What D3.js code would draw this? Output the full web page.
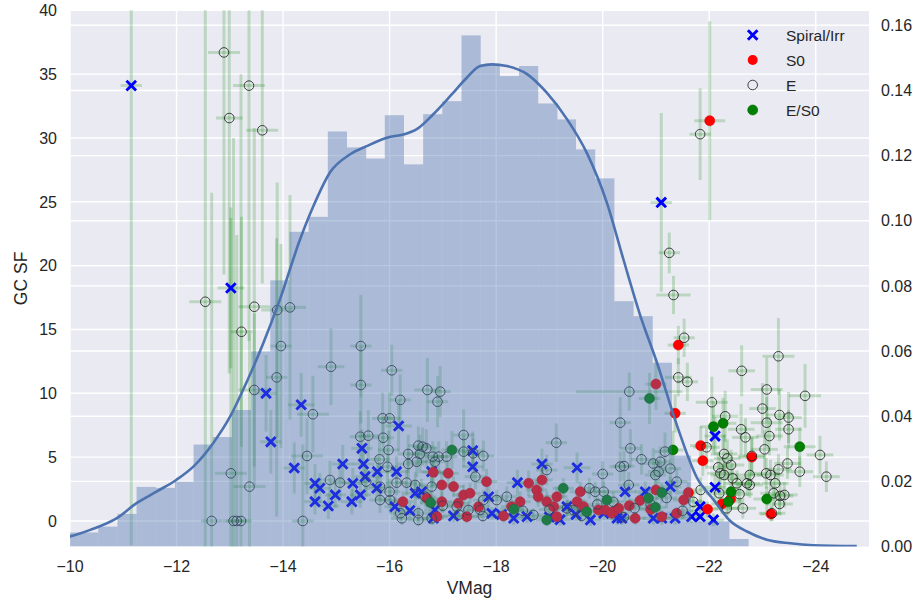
<!DOCTYPE html>
<html>
<head>
<meta charset="utf-8">
<script src="https://cdn.jsdelivr.net/npm/d3@7"></script>
<style>
  html, body { margin: 0; padding: 0; background: #ffffff; }
  svg { display: block; font-family: "Liberation Sans", Arial, sans-serif; }
</style>
</head>
<body>
<svg id="chart" width="919" height="603"></svg>
<script>
// ---- data -------------------------------------------------------------
// rows: [VMag, GC SF, VMag error, GC SF error]
const spiralIrr = [
  [-11.15, 34.1, 0.2, 36], [-13.02, 18.25, 0.25, 6.3], [-21.10, 24.95, 0.2, 7.0],
  [-13.68, 10.0, 0.2, 3], [-13.77, 6.2, 0.2, 2.5], [-14.34, 9.1, 0.25, 2.5],
  [-14.21, 4.15, 0.2, 2], [-14.60, 2.95, 0.2, 1.5], [-14.69, 2.56, 0.2, 1.2],
  [-14.60, 1.51, 0.2, 1], [-14.85, 1.17, 0.2, 1], [-14.98, 2.04, 0.2, 1],
  [-15.12, 4.46, 0.2, 1.5], [-15.31, 2.95, 0.2, 1.2], [-15.29, 1.51, 0.2, 1],
  [-15.45, 2.04, 0.2, 1], [-15.48, 5.69, 0.2, 1.5], [-15.51, 4.46, 0.2, 1.5],
  [-15.54, 3.47, 0.2, 1.2], [-15.77, 3.86, 0.2, 1.2], [-15.76, 2.56, 0.2, 1],
  [-16.13, 3.86, 0.2, 1.2], [-16.17, 7.44, 0.25, 2], [-16.10, 1.12, 0.2, 0.8],
  [-16.38, 0.81, 0.2, 0.6], [-16.48, 2.17, 0.2, 1], [-16.60, 2.29, 0.2, 1],
  [-16.79, 3.86, 0.2, 1.2], [-16.85, 0.86, 0.2, 0.6], [-16.82, 0.21, 0.2, 0.5],
  [-17.56, 5.51, 0.2, 1.5], [-17.56, 4.25, 0.2, 1.2], [-17.86, 1.90, 0.2, 0.8],
  [-17.92, 0.60, 0.2, 0.5], [-18.40, 3.0, 0.2, 1], [-18.33, 0.21, 0.2, 0.5],
  [-18.58, 0.34, 0.2, 0.5], [-18.86, 4.46, 0.2, 1.2], [-19.52, 4.17, 0.25, 1.2],
  [-19.33, 1.12, 0.2, 0.6], [-19.77, 0.08, 0.2, 0.5], [-20.27, 0.21, 0.2, 0.5],
  [-20.02, 0.60, 0.2, 0.5], [-20.36, 0.21, 0.2, 0.5], [-20.42, 2.29, 0.2, 0.8],
  [-20.80, 2.29, 0.2, 0.8], [-20.95, 0.21, 0.2, 0.5], [-21.11, 0.21, 0.2, 0.5],
  [-21.27, 2.69, 0.2, 0.8], [-21.36, 0.21, 0.2, 0.5], [-21.67, 0.34, 0.2, 0.5],
  [-21.83, 1.12, 0.2, 0.6], [-21.83, 0.34, 0.2, 0.5], [-22.08, 0.08, 0.2, 0.5],
  [-22.11, 6.65, 0.2, 1.5], [-22.11, 2.64, 0.2, 1], [-19.00, 0.30, 0.2, 0.5],
  [-19.20, 0.10, 0.2, 0.5], [-19.50, 0.50, 0.2, 0.5], [-18.10, 0.50, 0.2, 0.5],
  [-17.20, 0.40, 0.2, 0.5]
];
const s0 = [
  [-22.01, 31.35, 0.29, 7.8], [-21.42, 13.78, 0.2, 1.5], [-21.00, 10.72, 0.2, 2.0],
  [-21.36, 8.43, 0.2, 1.5], [-21.84, 5.90, 0.2, 1.5], [-21.88, 4.72, 0.2, 1.2],
  [-22.80, 5.00, 0.25, 1.5], [-23.16, 0.55, 0.2, 0.6], [-22.40, 1.70, 0.2, 0.8],
  [-22.24, 1.33, 0.2, 0.8], [-21.97, 0.92, 0.2, 0.6], [-21.61, 2.22, 0.2, 0.8],
  [-21.00, 2.43, 0.2, 0.8], [-20.61, 0.21, 0.2, 0.5], [-21.11, 0.34, 0.2, 0.5],
  [-21.39, 0.60, 0.2, 0.5], [-21.52, 1.64, 0.2, 0.6], [-20.20, 0.73, 0.2, 0.5],
  [-20.05, 0.86, 0.2, 0.5], [-16.82, 3.81, 0.2, 1], [-17.10, 3.73, 0.2, 1],
  [-16.98, 2.82, 0.2, 1], [-16.70, 1.78, 0.2, 0.8], [-16.98, 1.51, 0.2, 0.8],
  [-16.25, 1.51, 0.2, 0.8], [-16.89, 0.34, 0.2, 0.5], [-17.20, 2.69, 0.2, 0.8],
  [-17.29, 1.39, 0.2, 0.8], [-17.39, 2.04, 0.2, 0.8], [-17.51, 2.17, 0.2, 0.8],
  [-17.45, 0.34, 0.2, 0.5], [-17.67, 1.12, 0.2, 0.6], [-17.82, 3.08, 0.2, 1],
  [-18.14, 0.39, 0.2, 0.5], [-18.29, 1.12, 0.2, 0.6], [-18.45, 1.51, 0.2, 0.8],
  [-18.61, 2.95, 0.2, 1], [-18.76, 2.43, 0.2, 0.8], [-18.86, 3.21, 0.2, 1],
  [-18.79, 1.90, 0.2, 0.8], [-18.95, 1.51, 0.2, 0.8], [-19.14, 1.90, 0.2, 0.8],
  [-19.08, 1.12, 0.2, 0.6], [-19.14, 0.34, 0.2, 0.5], [-19.58, 2.29, 0.2, 0.8],
  [-19.64, 1.12, 0.2, 0.6], [-19.52, 1.51, 0.2, 0.8], [-19.92, 0.86, 0.2, 0.5],
  [-20.17, 0.60, 0.2, 0.5], [-20.30, 0.99, 0.2, 0.6], [-20.50, 1.20, 0.2, 0.6],
  [-20.70, 1.60, 0.2, 0.6], [-20.90, 0.90, 0.2, 0.6]
];
const ellipticals = [
  [-12.89, 36.7, 0.3, 17.4], [-13.36, 34.1, 0.3, 20], [-12.99, 31.56, 0.25, 20],
  [-13.61, 30.6, 0.3, 12], [-12.54, 17.17, 0.3, 25], [-13.46, 16.78, 0.3, 14],
  [-13.89, 16.52, 0.3, 10], [-14.13, 16.73, 0.3, 8.8], [-13.22, 14.82, 0.2, 9],
  [-13.96, 13.70, 0.2, 8], [-13.88, 11.25, 0.2, 10.9], [-13.46, 10.26, 0.3, 6],
  [-14.56, 8.36, 0.3, 3], [-14.45, 5.09, 0.3, 3], [-13.02, 3.73, 0.3, 20],
  [-13.37, 2.69, 0.3, 12], [-12.66, 0.0, 0.2, 25.7], [-13.07, 0.0, 0.2, 30],
  [-13.13, 0.0, 0.2, 22.4], [-13.21, 0.0, 0.2, 35], [-14.37, 0.0, 0.2, 6],
  [-15.46, 13.7, 0.2, 4], [-15.46, 10.65, 0.2, 3], [-14.90, 12.08, 0.25, 3],
  [-16.04, 11.8, 0.2, 2], [-16.20, 9.48, 0.2, 2], [-16.71, 10.26, 0.25, 2.5],
  [-16.95, 10.13, 0.2, 2], [-16.90, 9.34, 0.2, 2], [-17.39, 6.73, 0.2, 2],
  [-15.45, 6.60, 0.2, 2], [-15.60, 6.68, 0.2, 2], [-15.87, 8.04, 0.2, 2],
  [-16.00, 8.04, 0.2, 2], [-15.88, 6.52, 0.2, 1.5], [-15.98, 5.56, 0.2, 1.5],
  [-15.81, 4.83, 0.2, 1.5], [-15.96, 4.25, 0.2, 1.5], [-16.35, 5.25, 0.2, 1.5],
  [-16.54, 5.90, 0.2, 1.5], [-16.62, 5.82, 0.2, 1.5], [-16.57, 5.25, 0.2, 1.5],
  [-16.69, 5.69, 0.2, 1.5], [-16.51, 4.64, 0.2, 1.2], [-16.35, 4.46, 0.2, 1.2],
  [-16.81, 5.04, 0.2, 1.2], [-16.92, 5.04, 0.2, 1.2], [-16.85, 4.64, 0.2, 1.2],
  [-17.07, 5.04, 0.2, 1.2], [-17.39, 5.43, 0.2, 1.2], [-17.57, 5.30, 0.2, 1.2],
  [-17.76, 5.09, 0.2, 1.2], [-17.61, 3.47, 0.2, 1], [-14.88, 3.21, 0.2, 1.5],
  [-15.07, 3.00, 0.2, 1.5], [-15.56, 3.08, 0.2, 1.2], [-15.82, 2.69, 0.2, 1],
  [-16.00, 2.29, 0.2, 1], [-16.13, 3.00, 0.2, 1], [-16.32, 3.00, 0.2, 1],
  [-15.82, 1.64, 0.2, 1], [-16.01, 1.64, 0.2, 1], [-16.20, 0.60, 0.2, 0.6],
  [-16.23, 0.21, 0.2, 0.5], [-16.54, 0.08, 0.2, 0.5], [-16.54, 0.60, 0.2, 0.6],
  [-16.67, 1.90, 0.2, 0.8], [-16.48, 2.82, 0.2, 1], [-16.79, 0.21, 0.2, 0.5],
  [-16.79, 2.69, 0.2, 1], [-17.26, 1.12, 0.2, 0.6], [-17.48, 0.86, 0.2, 0.6],
  [-17.70, 0.86, 0.2, 0.6], [-17.75, 0.39, 0.2, 0.5], [-17.76, 1.64, 0.2, 0.8],
  [-18.01, 1.64, 0.2, 0.8], [-18.70, 0.47, 0.2, 0.5], [-18.95, 3.99, 0.2, 1.2],
  [-19.13, 6.13, 0.2, 1.5], [-19.33, 0.99, 0.2, 0.6], [-19.45, 0.86, 0.2, 0.6],
  [-19.75, 2.56, 0.2, 0.8], [-19.86, 2.29, 0.2, 0.8], [-20.00, 3.68, 0.2, 1],
  [-20.02, 2.29, 0.2, 0.8], [-20.33, 7.70, 0.2, 2], [-20.33, 4.25, 0.2, 1.2],
  [-21.25, 21.0, 0.2, 1.6], [-21.33, 17.7, 0.32, 1.5], [-21.83, 30.3, 0.2, 3.6],
  [-21.53, 14.35, 0.2, 1.5], [-21.42, 11.25, 0.25, 1.5], [-21.59, 10.9, 0.2, 1.5],
  [-20.50, 10.13, 1.0, 1.5], [-20.40, 4.30, 0.2, 1.2], [-20.52, 5.69, 0.2, 1.5],
  [-21.17, 5.43, 0.2, 1.5], [-20.73, 4.83, 0.2, 1.2], [-20.95, 4.50, 0.2, 1.2],
  [-21.08, 4.64, 0.2, 1.2], [-21.27, 4.10, 0.2, 1.2], [-21.05, 3.86, 0.2, 1],
  [-20.99, 3.60, 0.2, 1], [-21.39, 3.08, 0.2, 1], [-20.49, 2.82, 0.2, 1],
  [-22.05, 9.30, 0.3, 2], [-22.61, 11.76, 0.25, 2], [-23.30, 12.9, 0.3, 3],
  [-23.08, 10.3, 0.3, 2.5], [-23.00, 8.80, 0.25, 2], [-23.80, 9.80, 0.3, 2.5],
  [-23.32, 8.30, 0.25, 2], [-23.49, 8.10, 0.25, 2], [-23.08, 7.70, 0.3, 2],
  [-22.30, 8.20, 0.25, 2], [-21.95, 5.77, 0.25, 1.5], [-22.60, 7.18, 0.25, 2],
  [-22.68, 6.55, 0.25, 1.5], [-23.13, 6.65, 0.25, 1.5], [-23.49, 7.18, 0.25, 1.5],
  [-23.04, 5.61, 0.25, 1.5], [-22.80, 5.10, 0.25, 1.5], [-22.28, 5.25, 0.25, 1.5],
  [-22.34, 4.90, 0.25, 1.5], [-22.41, 4.38, 0.25, 1.2], [-22.17, 4.20, 0.25, 1.2],
  [-22.21, 3.73, 0.25, 1.2], [-22.28, 3.60, 0.25, 1.2], [-22.44, 3.34, 0.25, 1.2],
  [-22.52, 2.95, 0.25, 1], [-22.71, 2.95, 0.25, 1], [-22.76, 3.60, 0.25, 1.2],
  [-23.07, 3.73, 0.25, 1.2], [-23.15, 3.60, 0.25, 1.2], [-23.30, 4.04, 0.25, 1.2],
  [-23.47, 4.50, 0.25, 1.2], [-23.70, 3.86, 0.25, 1.2], [-24.08, 5.17, 0.25, 1.5],
  [-24.20, 3.47, 0.25, 1.2], [-23.21, 2.17, 0.25, 1], [-23.33, 1.96, 0.25, 1],
  [-23.24, 2.95, 0.25, 1], [-23.41, 2.04, 0.25, 1], [-23.32, 1.33, 0.25, 0.8],
  [-23.18, 0.60, 0.25, 0.6], [-22.63, 0.99, 0.25, 0.8], [-22.33, 0.99, 0.25, 0.8],
  [-22.19, 2.17, 0.25, 1], [-22.57, 2.10, 0.25, 1], [-22.76, 2.82, 0.25, 1],
  [-21.84, 2.43, 0.25, 1], [-20.20, 1.50, 0.2, 0.8], [-20.60, 1.00, 0.2, 0.6],
  [-20.90, 1.30, 0.2, 0.8], [-21.20, 1.80, 0.2, 0.8], [-21.50, 0.80, 0.2, 0.6],
  [-21.70, 1.50, 0.2, 0.8], [-20.40, 0.30, 0.2, 0.5], [-17.00, 1.20, 0.2, 0.6],
  [-17.30, 0.50, 0.2, 0.5], [-18.20, 1.90, 0.2, 0.8], [-18.50, 0.80, 0.2, 0.6],
  [-19.00, 0.90, 0.2, 0.6], [-19.60, 0.40, 0.2, 0.5], [-19.90, 1.30, 0.2, 0.6]
];
const ellipticalS0 = [
  [-17.17, 5.56, 0.2, 1.5], [-16.77, 1.43, 0.2, 0.8], [-18.33, 0.92, 0.2, 0.6],
  [-18.95, 0.08, 0.2, 0.5], [-19.26, 2.56, 0.2, 0.8], [-19.70, 0.73, 0.2, 0.5],
  [-20.08, 1.64, 0.2, 0.8], [-20.88, 9.60, 0.2, 2], [-21.32, 5.56, 0.2, 1.5],
  [-22.08, 7.38, 0.25, 2], [-22.26, 7.65, 0.25, 2], [-23.70, 5.82, 0.3, 1.5],
  [-23.08, 1.72, 0.25, 1], [-22.41, 2.29, 0.25, 1], [-22.36, 1.51, 0.25, 1],
  [-21.11, 2.22, 0.2, 0.8], [-20.86, 1.78, 0.2, 0.8], [-20.99, 1.07, 0.2, 0.6]
];

// magnitude histogram (density per bin) and its bin edges
const histEdges = [-9.81, -10.17, -10.53, -10.89, -11.25, -11.61, -11.97, -12.32, -12.68,
  -13.04, -13.40, -13.76, -14.12, -14.48, -14.84, -15.20, -15.56, -15.91, -16.27, -16.63,
  -16.99, -17.35, -17.71, -18.07, -18.43, -18.79, -19.15, -19.50, -19.86, -20.22, -20.58,
  -20.94, -21.30, -21.66, -22.02, -22.38, -22.74];
const histDensity = [0.0043, 0.0043, 0.0061, 0.0100, 0.0183, 0.0180, 0.0199, 0.0313, 0.0336,
  0.0419, 0.0599, 0.0817, 0.0966, 0.1012, 0.1274, 0.1225, 0.1191, 0.1324, 0.1173, 0.1327,
  0.1367, 0.1569, 0.1480, 0.1444, 0.1475, 0.1360, 0.1311, 0.1219, 0.1130, 0.0753, 0.0707,
  0.0564, 0.0279, 0.0077, 0.0077, 0.0023];

// kernel density estimate of the magnitudes: [VMag, density]
const kdeCurve = [
  [-9.70, 0.0022], [-10.00, 0.0031], [-10.38, 0.0051], [-10.88, 0.0087], [-11.25, 0.0133],
  [-11.63, 0.0169], [-12.00, 0.0205], [-12.32, 0.0246], [-12.69, 0.0318], [-13.01, 0.0400],
  [-13.32, 0.0506], [-13.63, 0.0625], [-13.94, 0.0758], [-14.32, 0.0943], [-14.57, 0.1045],
  [-14.88, 0.1148], [-15.26, 0.1204], [-15.57, 0.1229], [-15.95, 0.1255], [-16.26, 0.1265],
  [-16.51, 0.1281], [-16.82, 0.1327], [-17.14, 0.1383], [-17.45, 0.1439], [-17.70, 0.1475],
  [-17.92, 0.1480], [-18.20, 0.1475], [-18.58, 0.1450], [-18.95, 0.1393], [-19.33, 0.1312],
  [-19.70, 0.1209], [-20.08, 0.1055], [-20.39, 0.0881], [-20.70, 0.0712], [-21.02, 0.0564],
  [-21.39, 0.0374], [-21.77, 0.0211], [-22.08, 0.0144], [-22.39, 0.0079], [-22.71, 0.0046],
  [-23.08, 0.0021], [-23.52, 0.0010], [-23.95, 0.0004], [-24.77, 0.0001]
];

const xTicks = [-10, -12, -14, -16, -18, -20, -22, -24];
const sfTicks = [0, 5, 10, 15, 20, 25, 30, 35, 40];
const densityTicks = [0.00, 0.02, 0.04, 0.06, 0.08, 0.10, 0.12, 0.14, 0.16];
const legendLabels = ["Spiral/Irr", "S0", "E", "E/S0"];

// ---- layout -----------------------------------------------------------
const svg = d3.select("#chart");
const L = 70, R = 869, T = 10.3, B = 546.5;

const x = d3.scaleLinear().domain([-10, -25]).range([L, R]);
const ySF = d3.scaleLinear().domain([-2, 40]).range([B, T]);
const yD = d3.scaleLinear().domain([0, 0.1646]).range([B, T]);

const textColor = "#262626";
const fmtMinus = v => (v < 0 ? "\u2212" + Math.abs(v) : String(v));

svg.append("defs").append("clipPath").attr("id", "plotClip")
  .append("rect").attr("x", L).attr("y", T).attr("width", R - L).attr("height", B - T);

svg.append("rect").attr("x", L).attr("y", T).attr("width", R - L).attr("height", B - T)
  .attr("fill", "#EAEAF2");

// grid
const grid = svg.append("g").attr("stroke", "#ffffff").attr("stroke-width", 1.4);
grid.selectAll(".gx").data(xTicks).join("line")
  .attr("x1", d => x(d)).attr("x2", d => x(d)).attr("y1", T).attr("y2", B);
grid.selectAll(".gy").data(sfTicks).join("line")
  .attr("x1", L).attr("x2", R).attr("y1", d => ySF(d)).attr("y2", d => ySF(d));
grid.selectAll(".gd").data(densityTicks.slice(1)).join("line")
  .attr("x1", L).attr("x2", R).attr("y1", d => yD(d)).attr("y2", d => yD(d));

const plot = svg.append("g").attr("clip-path", "url(#plotClip)");

// error bars for all galaxies
const allRows = [].concat(spiralIrr, s0, ellipticals, ellipticalS0);
const errs = plot.append("g").attr("stroke", "rgba(0,128,0,0.2)").attr("stroke-width", 3);
errs.selectAll(".ey").data(allRows).join("line")
  .attr("x1", d => x(d[0])).attr("x2", d => x(d[0]))
  .attr("y1", d => ySF(d[1] - d[3])).attr("y2", d => ySF(d[1] + d[3]));
errs.selectAll(".ex").data(allRows).join("line")
  .attr("x1", d => x(d[0] - d[2])).attr("x2", d => x(d[0] + d[2]))
  .attr("y1", d => ySF(d[1])).attr("y2", d => ySF(d[1]));

// markers
const xMark = (g, cx, cy, s) => g.append("path")
  .attr("d", `M${cx - s},${cy - s}L${cx + s},${cy + s}M${cx - s},${cy + s}L${cx + s},${cy - s}`)
  .attr("stroke", "#0000ff").attr("stroke-width", 2.9).attr("fill", "none");

const gSp = plot.append("g");
spiralIrr.forEach(d => xMark(gSp, x(d[0]), ySF(d[1]), 4.8));

plot.append("g").selectAll("circle").data(s0).join("circle")
  .attr("cx", d => x(d[0])).attr("cy", d => ySF(d[1])).attr("r", 5)
  .attr("fill", "#ff0000").attr("stroke", "#e00000").attr("stroke-width", 0.6);

plot.append("g").selectAll("circle").data(ellipticals).join("circle")
  .attr("cx", d => x(d[0])).attr("cy", d => ySF(d[1])).attr("r", 4.8)
  .attr("fill", "none").attr("stroke", "#222222").attr("stroke-width", 0.85);

plot.append("g").selectAll("circle").data(ellipticalS0).join("circle")
  .attr("cx", d => x(d[0])).attr("cy", d => ySF(d[1])).attr("r", 5)
  .attr("fill", "#008000").attr("stroke", "#006400").attr("stroke-width", 0.6);

// histogram of magnitudes (secondary axis, drawn over the scatter)
const bins = histDensity.map((v, i) => ({ x0: histEdges[i], x1: histEdges[i + 1], v }));
plot.append("g").selectAll("rect").data(bins).join("rect")
  .attr("x", d => x(d.x0)).attr("width", d => x(d.x1) - x(d.x0))
  .attr("y", d => yD(d.v)).attr("height", d => yD(0) - yD(d.v))
  .attr("fill", "#4C72B0").attr("fill-opacity", 0.4);

plot.append("path").datum(kdeCurve)
  .attr("d", d3.line().x(d => x(d[0])).y(d => yD(d[1])).curve(d3.curveMonotoneX))
  .attr("fill", "none").attr("stroke", "#4C72B0").attr("stroke-width", 2.6);

// tick labels
const fs = 16;
svg.append("g").selectAll("text").data(xTicks).join("text")
  .attr("x", d => x(d)).attr("y", 572).attr("text-anchor", "middle")
  .attr("font-size", fs).attr("fill", textColor).text(fmtMinus);
svg.append("g").selectAll("text").data(sfTicks).join("text")
  .attr("x", 57).attr("y", d => ySF(d) + 5.7).attr("text-anchor", "end")
  .attr("font-size", fs).attr("fill", textColor).text(d => d);
svg.append("g").selectAll("text").data(densityTicks).join("text")
  .attr("x", 881).attr("y", d => yD(d) + 5.7).attr("text-anchor", "start")
  .attr("font-size", fs).attr("fill", textColor).text(d => d.toFixed(2));

// axis labels
svg.append("text").attr("x", (L + R) / 2).attr("y", 594).attr("text-anchor", "middle")
  .attr("font-size", 17.5).attr("fill", textColor).text("VMag");
svg.append("text").attr("transform", `translate(27,${(T + B) / 2}) rotate(-90)`)
  .attr("text-anchor", "middle").attr("font-size", 17.5).attr("fill", textColor).text("GC SF");

// legend
const lg = svg.append("g");
const lx = 752.7, ly0 = 35, dy = 25;
xMark(lg, lx, ly0, 4.8);
lg.append("circle").attr("cx", lx).attr("cy", ly0 + dy).attr("r", 5).attr("fill", "#ff0000");
lg.append("circle").attr("cx", lx).attr("cy", ly0 + 2 * dy).attr("r", 4.8)
  .attr("fill", "none").attr("stroke", "#222222").attr("stroke-width", 0.85);
lg.append("circle").attr("cx", lx).attr("cy", ly0 + 3 * dy).attr("r", 5)
  .attr("fill", "#008000").attr("stroke", "#006400").attr("stroke-width", 0.6);
lg.selectAll("text").data(legendLabels).join("text")
  .attr("x", 786).attr("y", (d, i) => ly0 + i * dy + 5.5)
  .attr("font-size", 15.5).attr("fill", textColor).text(d => d);
</script>
</body>
</html>
